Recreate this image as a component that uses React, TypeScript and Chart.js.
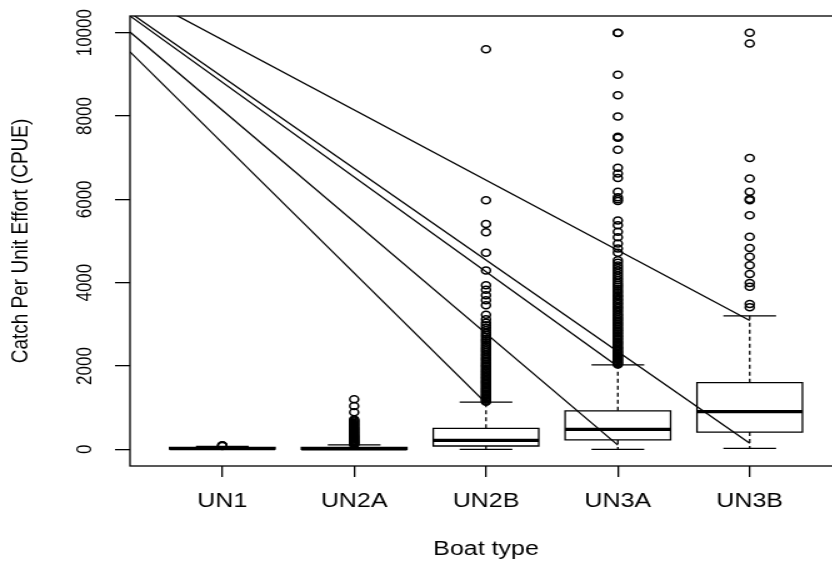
import React, { useEffect, useRef } from 'react';
import { Chart, registerables } from 'chart.js';

Chart.register(...registerables);

// ---------- data ----------
const categories = ['UN1', 'UN2A', 'UN2B', 'UN3A', 'UN3B'];
const whiskerLow = [0, 0, 0, 0, 25];
const boxQ1 = [3, 2, 80, 225, 415];
const boxMedian = [15, 12, 215, 480, 905];
const boxQ3 = [45, 45, 505, 925, 1600];
const whiskerHigh = [70, 105, 1135, 2025, 3205];

const outUN1 = [80, 90, 100];
const outUN2A = [118, 131, 149, 163, 180, 198, 214, 236, 252, 271, 293, 315, 334, 352, 377, 398, 420, 441, 468, 489, 512, 538, 561, 590, 612, 640, 668, 690, 718, 890, 1040, 1200];
const outUN2B = [1145, 1168, 1196, 1225, 1251, 1283, 1310, 1342, 1375, 1402, 1436, 1468, 1497, 1530, 1566, 1598, 1627, 1660, 1695, 1730, 1762, 1798, 1833, 1870, 1905, 1942, 1980, 2015, 2050, 2090, 2130, 2170, 2205, 2250, 2290, 2335, 2380, 2420, 2460, 2510, 2560, 2605, 2650, 2700, 2750, 2800, 2860, 2920, 2980, 3040, 3120, 3230, 3460, 3580, 3700, 3830, 3940, 4290, 4720, 5210, 5410, 5980, 9600];
const outUN3A = [2035, 2060, 2090, 2115, 2145, 2170, 2200, 2230, 2255, 2290, 2320, 2350, 2385, 2415, 2450, 2480, 2520, 2555, 2590, 2630, 2665, 2700, 2740, 2780, 2815, 2850, 2890, 2930, 2970, 3010, 3050, 3090, 3130, 3170, 3210, 3250, 3300, 3345, 3390, 3430, 3480, 3520, 3570, 3610, 3660, 3700, 3750, 3800, 3850, 3900, 3950, 4000, 4060, 4110, 4170, 4230, 4290, 4350, 4410, 4480, 4540, 4720, 4820, 4940, 5090, 5220, 5380, 5490, 5960, 6000, 6050, 6180, 6510, 6620, 6760, 7190, 7480, 7500, 7990, 8500, 8990, 9990, 10000];
const outUN3B = [3410, 3490, 3900, 3990, 4210, 4420, 4620, 4830, 5100, 5620, 5980, 6010, 6180, 6500, 6990, 9740, 10000];
const outliers = [outUN1, outUN2A, outUN2B, outUN3A, outUN3B];

const yTickValues = [0, 2000, 4000, 6000, 8000, 10000];

// straight reference lines (start at left edge of the plot, end at a point)
const lineFromX = [0.3, 0.3, 0.3, 0.3, 0.3];
const lineFromY = [10400, 10480, 11010, 10015, 9540];
const lineToX = [4, 5, 5, 4, 3];
const lineToY = [1990, 145, 3090, 100, 1110];

// ---------- geometry / style ----------
const FONT = "'Liberation Sans', Arial, Helvetica, sans-serif";
const BOX_HALF = 0.4;
const CAP_HALF = 0.2;
const STRETCH = 1.25;
const INNER_W = 704;
const INNER_H = 563;
const LW = 1.3;

type P = { x: number; y: number | null };

function buildBoxes(): P[] {
  const pts: P[] = [];
  categories.forEach((_, i) => {
    const c = i + 1;
    pts.push({ x: c - BOX_HALF, y: boxQ1[i] }, { x: c + BOX_HALF, y: boxQ1[i] }, { x: c + BOX_HALF, y: boxQ3[i] }, { x: c - BOX_HALF, y: boxQ3[i] }, { x: c - BOX_HALF, y: boxQ1[i] }, { x: c, y: null });
  });
  return pts;
}
function buildMedians(): P[] {
  const pts: P[] = [];
  categories.forEach((_, i) => {
    const c = i + 1;
    pts.push({ x: c - BOX_HALF, y: boxMedian[i] }, { x: c + BOX_HALF, y: boxMedian[i] }, { x: c, y: null });
  });
  return pts;
}
function buildWhiskers(): P[] {
  const pts: P[] = [];
  categories.forEach((_, i) => {
    const c = i + 1;
    pts.push({ x: c, y: boxQ3[i] }, { x: c, y: whiskerHigh[i] }, { x: c, y: null });
    pts.push({ x: c, y: boxQ1[i] }, { x: c, y: whiskerLow[i] }, { x: c, y: null });
  });
  return pts;
}
function buildCaps(): P[] {
  const pts: P[] = [];
  categories.forEach((_, i) => {
    const c = i + 1;
    pts.push({ x: c - CAP_HALF, y: whiskerHigh[i] }, { x: c + CAP_HALF, y: whiskerHigh[i] }, { x: c, y: null });
    pts.push({ x: c - CAP_HALF, y: whiskerLow[i] }, { x: c + CAP_HALF, y: whiskerLow[i] }, { x: c, y: null });
  });
  return pts;
}

const framePlugin = {
  id: 'frame',
  afterDatasetsDraw(chart: any) {
    const { ctx, chartArea: a } = chart;
    ctx.save();
    ctx.strokeStyle = '#000';
    ctx.lineWidth = LW;
    ctx.strokeRect(a.left, a.top, a.right - a.left, a.bottom - a.top);
    ctx.restore();
  },
};

export default function App() {
  const ref = useRef<HTMLCanvasElement>(null);

  useEffect(() => {
    const canvas = ref.current;
    if (!canvas) return;
    const lineCommon = {
      showLine: true,
      pointRadius: 0,
      borderColor: '#000',
      backgroundColor: '#000',
      tension: 0,
      spanGaps: false,
    };
    const datasets: any[] = [
      { ...lineCommon, data: buildBoxes(), borderWidth: LW, borderCapStyle: 'square' },
      { ...lineCommon, data: buildMedians(), borderWidth: 3.2, borderCapStyle: 'butt' },
      { ...lineCommon, data: buildWhiskers(), borderWidth: LW, borderDash: [4, 3] },
      { ...lineCommon, data: buildCaps(), borderWidth: LW },
      {
        data: outliers.flatMap((arr, i) => arr.map((v) => ({ x: i + 1, y: v }))),
        showLine: false,
        pointStyle: 'circle',
        pointRadius: 3.5,
        borderWidth: 1.5,
        borderColor: '#000',
        backgroundColor: 'rgba(0,0,0,0)',
      },
      ...lineFromX.map((fx, i) => ({
        ...lineCommon,
        borderWidth: LW,
        data: [
          { x: fx, y: lineFromY[i] },
          { x: lineToX[i], y: lineToY[i] },
        ],
      })),
    ];

    const chart = new Chart(canvas, {
      type: 'scatter',
      data: { datasets },
      plugins: [framePlugin],
      options: {
        animation: false,
        responsive: false,
        devicePixelRatio: 1,
        events: [],
        layout: { padding: { left: 0, right: INNER_W - 842 / STRETCH, top: 16, bottom: 0 } },
        plugins: {
          legend: { display: false },
          tooltip: { enabled: false },
        },
        scales: {
          x: {
            type: 'linear',
            position: 'bottom',
            min: 0.3,
            max: 5.7,
            bounds: 'data',
            afterBuildTicks: (s: any) => {
              s.ticks = categories.map((_, i) => ({ value: i + 1 }));
            },
            afterFit: (s: any) => {
              s.height = 97;
            },
            grid: { drawOnChartArea: false, drawTicks: true, tickLength: 11, color: '#000', lineWidth: LW },
            border: { display: false },
            ticks: {
              autoSkip: false,
              minRotation: 0,
              maxRotation: 0,
              padding: 12.4,
              color: '#000',
              font: { family: FONT, size: 20 },
              callback: (v: any) => categories[Math.round(Number(v)) - 1] ?? '',
            },
            title: {
              display: true,
              text: 'Boat type',
              color: '#000',
              font: { family: FONT, size: 20 },
              padding: { top: 0, bottom: 1.9 },
            },
          },
          y: {
            type: 'linear',
            min: -400,
            max: 10400,
            bounds: 'data',
            afterBuildTicks: (s: any) => {
              s.ticks = yTickValues.map((v) => ({ value: v }));
            },
            afterFit: (s: any) => {
              s.width = 130 / STRETCH;
            },
            grid: { drawOnChartArea: false, drawTicks: true, tickLength: 12, color: '#000', lineWidth: LW },
            border: { display: false },
            ticks: {
              minRotation: 90,
              maxRotation: 90,
              crossAlign: 'center',
              padding: 0.4,
              color: '#000',
              font: { family: FONT, size: 17 },
              callback: (v: any) => String(v),
            },
            title: {
              display: true,
              text: 'Catch Per Unit Effort (CPUE)',
              color: '#000',
              font: { family: FONT, size: 19 },
              padding: { top: 5.6, bottom: 0 },
            },
          },
        },
      } as any,
    });
    return () => chart.destroy();
  }, []);

  return (
    <div
      style={{
        position: 'fixed',
        left: 0,
        top: 0,
        width: 832,
        height: 563,
        overflow: 'hidden',
        background: '#fff',
      }}
    >
      <canvas
        ref={ref}
        width={INNER_W}
        height={INNER_H}
        style={{ width: `${INNER_W * STRETCH}px`, height: `${INNER_H}px`, display: 'block' }}
      />
    </div>
  );
}
